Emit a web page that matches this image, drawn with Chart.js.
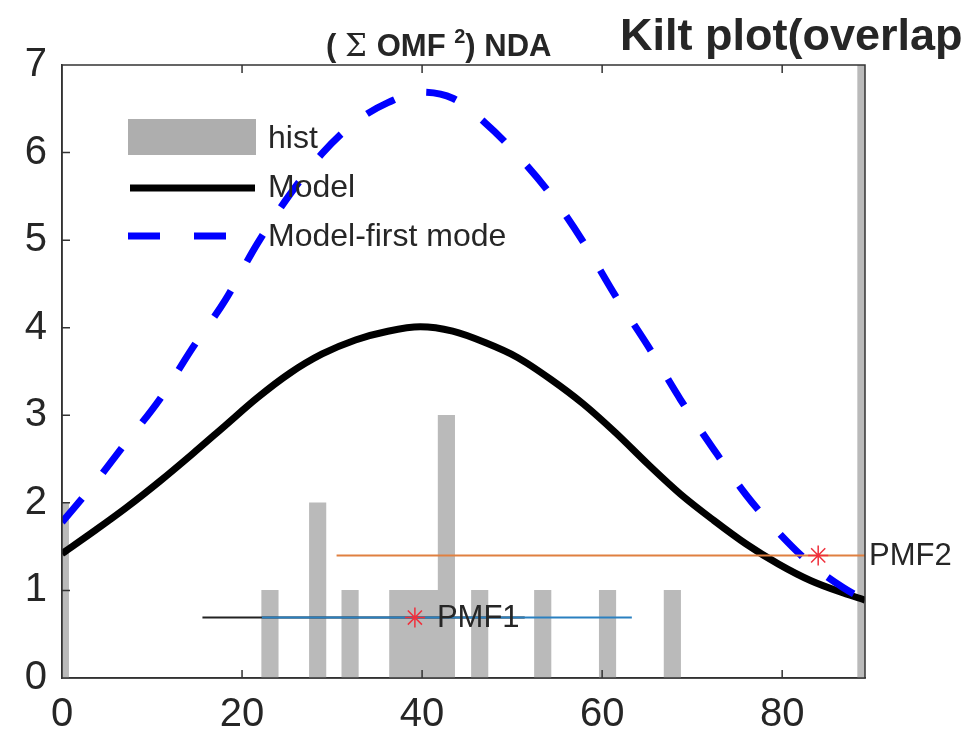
<!DOCTYPE html>
<html>
<head>
<meta charset="utf-8">
<script src="https://cdn.jsdelivr.net/npm/chart.js@4.4.1/dist/chart.umd.min.js"></script>
<style>
  html, body { margin: 0; padding: 0; background: #fff; }
</style>
</head>
<body>
<canvas id="kilt" width="961" height="748"></canvas>
<script>
// histogram bins (centre, count)
const histX = [-0.18, 23.1, 28.4, 32.0, 37.3, 39.1, 40.9, 42.7, 46.4, 53.4, 60.6, 67.8, 89.3];
const histY = [2, 1, 2, 1, 1, 1, 1, 3, 1, 1, 1, 1, 8];

// model curves
const curveX = [0, 3.6, 7.2, 10.9, 14.5, 18.1, 21.7, 25.3, 28.9, 32.6, 36.2, 39.8, 43.4, 47.0, 50.6, 54.3, 57.9, 61.5, 65.1, 68.7, 72.4, 76.0, 79.6, 83.2, 86.8, 89.2];
const modelY = [1.42, 1.68, 1.95, 2.25, 2.56, 2.88, 3.20, 3.48, 3.70, 3.86, 3.96, 4.01, 3.96, 3.83, 3.66, 3.41, 3.13, 2.80, 2.44, 2.10, 1.80, 1.53, 1.30, 1.11, 0.97, 0.89];
const firstModeY = [1.78, 2.22, 2.70, 3.19, 3.77, 4.31, 4.96, 5.52, 5.99, 6.35, 6.57, 6.69, 6.62, 6.34, 5.97, 5.52, 4.98, 4.36, 3.79, 3.18, 2.61, 2.09, 1.66, 1.30, 1.03, 0.89];

// PMF markers and their horizontal lines
const pmfNames = ['PMF1', 'PMF2'];
const pmfStarX = [39.2, 84.0];
const pmfY = [0.69, 1.40];
const pmfLabelX = [39.2, 89.2];
const pmf1BlackX = [15.6, 51.4];
const pmf1BlueX = [22.2, 63.3];
const pmf2X = [30.5, 89.2];

const xTicks = [0, 20, 40, 60, 80];
const yTicks = [0, 1, 2, 3, 4, 5, 6, 7];

const FONT = '"Liberation Sans", Arial, Helvetica, sans-serif';
const TXT = '#262626';

const pts = (xs, ys) => xs.map((x, i) => ({ x: x, y: ys[i] }));
const seg = (xs, y) => xs.map(x => ({ x: x, y: y }));

// inner tick marks + box, MATLAB style
const boxPlugin = {
    id: 'box',
    afterDatasetsDraw(chart) {
        const { ctx, chartArea: a, scales: { x, y } } = chart;
        ctx.save();
        ctx.strokeStyle = '#333';
        ctx.lineWidth = 1.5;
        ctx.beginPath();
        yTicks.slice(1, -1).forEach(v => {
            const py = y.getPixelForValue(v);
            ctx.moveTo(a.left, py); ctx.lineTo(a.left + 8, py);
        });
        xTicks.slice(1).forEach(v => {
            const px = x.getPixelForValue(v);
            ctx.moveTo(px, a.bottom); ctx.lineTo(px, a.bottom - 8);
            ctx.moveTo(px, a.top); ctx.lineTo(px, a.top + 8);
        });
        ctx.stroke();
        ctx.strokeRect(a.left, a.top, a.right - a.left, a.bottom - a.top);
        ctx.restore();
    },
    afterDraw(chart) {
        const { ctx, scales: { x, y } } = chart;
        ctx.save();
        ctx.fillStyle = TXT;
        ctx.textBaseline = 'middle';

        // PMF labels
        ctx.font = '31px ' + FONT;
        pmfNames.forEach((n, i) => {
            ctx.fillText(n, x.getPixelForValue(pmfLabelX[i]) + (i === 0 ? 22 : 4), y.getPixelForValue(pmfY[i]) + 1);
        });

        // legend
        ctx.fillStyle = '#aeaeae';
        ctx.fillRect(128, 119, 128, 36);
        ctx.lineWidth = 7;
        ctx.strokeStyle = '#000';
        ctx.beginPath(); ctx.moveTo(130, 188); ctx.lineTo(255, 188); ctx.stroke();
        ctx.strokeStyle = '#0000ff';
        ctx.setLineDash([32, 34]);
        ctx.beginPath(); ctx.moveTo(128, 236); ctx.lineTo(256, 236); ctx.stroke();
        ctx.setLineDash([]);
        ctx.fillStyle = TXT;
        ctx.font = '32px ' + FONT;
        ctx.fillText('hist', 268, 139);
        ctx.fillText('Model', 268, 188);
        ctx.fillText('Model-first mode', 268, 237);

        // titles
        ctx.textBaseline = 'alphabetic';
        ctx.font = 'bold 31px ' + FONT;
        let tx = 326;
        const ty = 56;
        ctx.fillText('( ', tx, ty); tx += ctx.measureText('( ').width;
        ctx.font = '31px "DejaVu Serif", serif';
        ctx.fillText('\u03A3', tx, ty); tx += ctx.measureText('\u03A3 ').width;
        ctx.font = 'bold 31px ' + FONT;
        ctx.fillText('OMF ', tx, ty); tx += ctx.measureText('OMF ').width;
        ctx.font = 'bold 20px ' + FONT;
        ctx.fillText('2', tx, ty - 13); tx += ctx.measureText('2').width;
        ctx.font = 'bold 31px ' + FONT;
        ctx.fillText(') NDA', tx, ty);
        ctx.font = 'bold 45px ' + FONT;
        ctx.fillText('Kilt plot(overlap)', 620, 50);
        ctx.restore();
    }
};

new Chart(document.getElementById('kilt'), {
    type: 'bar',
    data: {
        datasets: [
            {
                type: 'scatter',
                data: pts(pmfStarX, pmfY),
                pointStyle: 'star',
                pointRadius: 10,
                borderColor: '#f0303c',
                borderWidth: 1.5,
                order: 1
            },
            {
                type: 'line',
                data: seg(pmf1BlueX, pmfY[0]),
                borderColor: '#2a80c0',
                borderWidth: 2,
                pointRadius: 0,
                order: 2
            },
            {
                type: 'line',
                data: seg(pmf1BlackX, pmfY[0]),
                borderColor: '#222',
                borderWidth: 2,
                pointRadius: 0,
                order: 3
            },
            {
                type: 'line',
                data: seg(pmf2X, pmfY[1]),
                borderColor: '#e08040',
                borderWidth: 2,
                pointRadius: 0,
                order: 2
            },
            {
                type: 'line',
                label: 'Model-first mode',
                data: pts(curveX, firstModeY),
                borderColor: '#0000ff',
                borderWidth: 7,
                borderDash: [31, 33],
                borderCapStyle: 'butt',
                pointRadius: 0,
                cubicInterpolationMode: 'monotone',
                order: 5
            },
            {
                type: 'line',
                label: 'Model',
                data: pts(curveX, modelY),
                borderColor: '#000',
                borderWidth: 7,
                pointRadius: 0,
                cubicInterpolationMode: 'monotone',
                order: 6
            },
            {
                type: 'bar',
                label: 'hist',
                data: pts(histX, histY),
                backgroundColor: '#bababa',
                barThickness: 16.5,
                clip: 0,
                order: 10
            }
        ]
    },
    options: {
        responsive: false,
        animation: false,
        events: [],
        layout: { padding: { top: 65, right: 96, left: 0, bottom: 0 } },
        plugins: { legend: { display: false }, tooltip: { enabled: false } },
        scales: {
            x: {
                type: 'linear',
                min: 0,
                max: 89.2,
                offset: false,
                afterBuildTicks: s => { s.ticks = xTicks.map(v => ({ value: v })); },
                afterFit: s => { s.height = 70; },
                grid: { display: false, drawTicks: false },
                border: { color: '#333', width: 1.5 },
                ticks: { font: { family: FONT, size: 40 }, color: TXT, padding: 13, maxRotation: 0 }
            },
            y: {
                min: 0,
                max: 7,
                afterBuildTicks: s => { s.ticks = yTicks.map(v => ({ value: v })); },
                afterFit: s => { s.width = 62; },
                grid: { display: false, drawTicks: false },
                border: { color: '#333', width: 1.5 },
                ticks: { font: { family: FONT, size: 40 }, color: TXT, padding: 15 }
            }
        }
    },
    plugins: [boxPlugin]
});
</script>
</body>
</html>
